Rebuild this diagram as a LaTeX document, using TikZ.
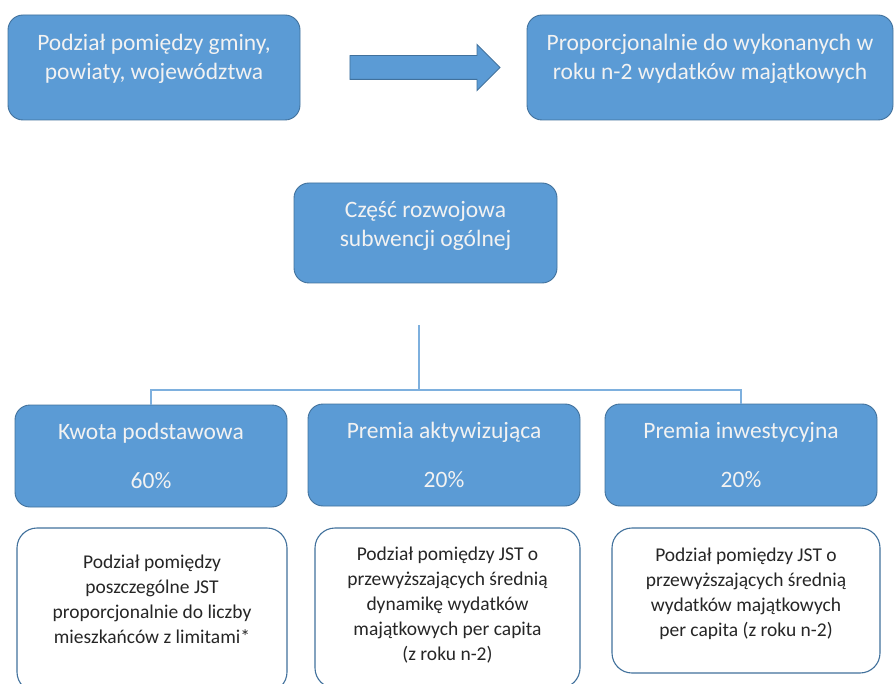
\documentclass[tikz,border=0pt]{standalone}
\usepackage{fontspec}
\setmainfont{Carlito}
\usepackage{xcolor}
\usetikzlibrary{shapes.arrows}

\definecolor{boxblue}{HTML}{5B9BD5}
\definecolor{edgeblue}{HTML}{41719C}
\definecolor{lineblue}{HTML}{7EB0DE}

\begin{document}
\begin{tikzpicture}[x=1pt, y=-1pt,
  bluebox/.style={rectangle,
      fill=boxblue,
      draw=edgeblue,
      line width=0.9pt,
      rounded corners=15pt,
      text=white!95!black,
      align=center,
      font=\fontsize{23.5}{29.5}\selectfont},
  notebox/.style={rectangle,
      fill=white,
      draw=edgeblue,
      line width=1.1pt,
      rounded corners=20pt,
      text=black!85,
      align=center,
      font=\fontsize{19.5}{25}\selectfont},
  link/.style={draw=lineblue, line width=1.3pt}]

\clip (0,0) rectangle (896,684);

% top row
\node[bluebox, minimum width=292pt, minimum height=105pt, text depth=21pt] (gminy) at (154,67.5)
{Podział pomiędzy gminy,\\ powiaty, województwa};
\node[bluebox, minimum width=366pt, minimum height=105pt, text depth=21pt] (wydatki) at (710,67.5)
{Proporcjonalnie do wykonanych w\\ roku n-2 wydatków majątkowych};
\node[single arrow,
      fill=boxblue,
      draw=edgeblue,
      line width=0.9pt,
      inner xsep=0pt,
      inner ysep=11.5pt,
      minimum height=150pt,
      single arrow head extend=11pt] (strzalka) at (419,67.5) {};

% middle
\node[bluebox, minimum width=263pt, minimum height=100pt, text depth=18pt] (czesc) at (425.5,233)
{Część rozwojowa\\ subwencji ogólnej};

% three parts
\node[bluebox, minimum width=272pt, minimum height=102pt] (kwota) at (151,456)
{Kwota podstawowa\\[19pt] 60\%};
\node[bluebox, minimum width=272pt, minimum height=102pt] (aktyw) at (444,455)
{Premia aktywizująca\\[19pt] 20\%};
\node[bluebox, minimum width=272pt, minimum height=102pt] (inwest) at (741,455)
{Premia inwestycyjna\\[19pt] 20\%};

% descriptions
\node[notebox, minimum width=270pt, minimum height=164pt, text depth=22pt] (opis1) at (152,610)
{Podział pomiędzy\\ poszczególne JST\\ proporcjonalnie do liczby\\ mieszkańców z limitami*};
\node[notebox, minimum width=265pt, minimum height=160pt, text depth=8pt] (opis2) at (447.5,608)
{Podział pomiędzy JST o\\ przewyższających średnią\\ dynamikę wydatków\\ majątkowych per capita\\ (z roku n-2)};
\node[notebox, minimum width=268pt, minimum height=145pt, text depth=17pt] (opis3) at (746,600.5)
{Podział pomiędzy JST o\\ przewyższających średnią\\ wydatków majątkowych\\ per capita (z roku n-2)};

% connectors
\coordinate (stem) at (419,325);
\coordinate (split) at (419,390);
\draw[link] (stem) -- (split);
\draw[link] (kwota.north) |- (split) -| (inwest.north);

\end{tikzpicture}
\end{document}
